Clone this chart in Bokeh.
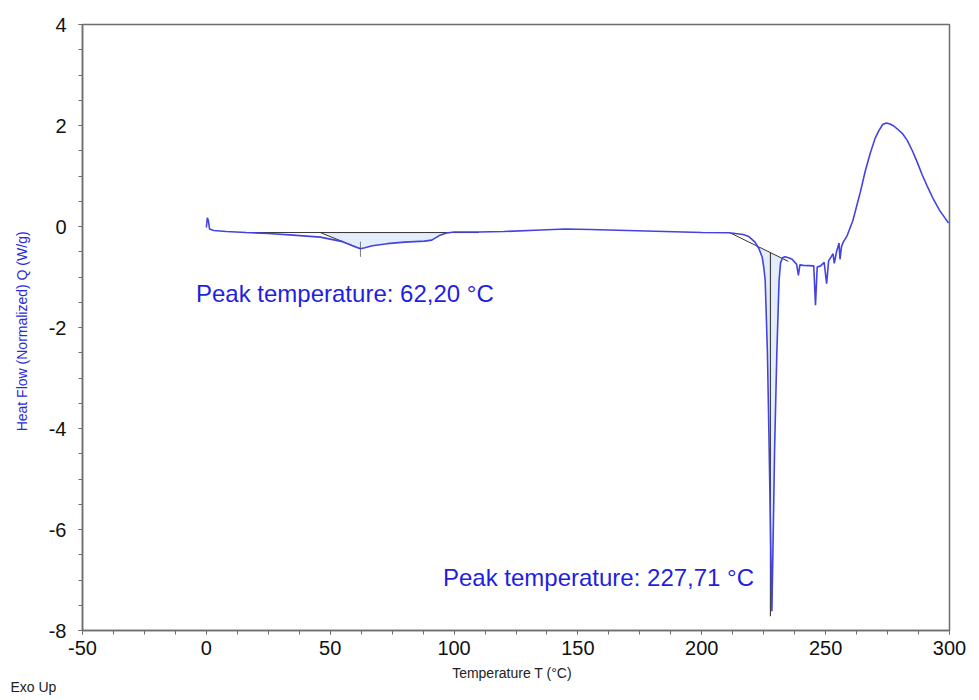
import numpy as np
from bokeh.plotting import figure
from bokeh.models import Range1d, SingleIntervalTicker, Label, PrintfTickFormatter
from bokeh.embed import file_html
from bokeh.resources import INLINE

# ---- data ----
temperature = [0.0, 0.4, 0.8, 1.3, 3, 8, 16, 25, 35, 46, 55, 60, 62.2, 64, 67, 73, 80, 88, 91,
               94, 97, 100, 110, 120, 135, 145, 155, 170, 185, 200, 211, 216.7, 219, 221.5,
               223.1, 224.4, 225.0, 225.6, 226.5, 227.2, 227.8, 228.3, 228.8, 229.4, 230.3,
               231.2, 231.8, 232.6, 233.6, 235, 236.5, 238.3, 239.0, 239.6, 241, 245.2, 245.9,
               246.6, 248, 249.4, 250.4, 251.2, 253.0, 253.5, 254.4, 255.4, 255.8, 256.4, 257,
               258.7, 261, 264, 266, 268, 270, 271.5, 273, 274.5, 276, 277.5, 279, 281,
               283, 285, 287, 289, 291, 293.5, 296, 298, 299.6]
heat_flow = [-0.02, 0.17, 0.12, -0.05, -0.08, -0.10, -0.12, -0.14, -0.17, -0.21, -0.30, -0.40,
             -0.44, -0.42, -0.38, -0.34, -0.31, -0.29, -0.27, -0.18, -0.13, -0.11, -0.11, -0.10,
             -0.07, -0.05, -0.06, -0.08, -0.10, -0.12, -0.125, -0.16, -0.20, -0.31, -0.44,
             -0.61, -0.80, -1.07, -2.5, -4.4, -6.2, -7.62, -6.2, -4.4, -2.5, -1.07, -0.72,
             -0.62, -0.60, -0.62, -0.65, -0.75, -0.97, -0.76, -0.77, -0.78, -1.56, -0.80,
             -0.78, -0.71, -1.13, -0.68, -0.54, -0.73, -0.50, -0.33, -0.65, -0.40, -0.32,
             -0.18, 0.12, 0.68, 1.10, 1.45, 1.75, 1.90, 2.02, 2.05, 2.03, 1.99, 1.93, 1.84,
             1.70, 1.50, 1.27, 1.02, 0.80, 0.54, 0.32, 0.18, 0.07]

# integration baselines (start/end temperature and value)
base1_T = [16, 110]
base1_Q = [-0.12, -0.12]
tangent1_T = [46, 62.2]
tangent1_Q = [-0.12, -0.44]
base2_T = [211.4, 234.9]
base2_Q = [-0.125, -0.69]
peak_temps = [62.20, 227.71]
peak_labels = ["Peak temperature: 62,20 °C", "Peak temperature: 227,71 °C"]

T = np.array(temperature)
Q = np.array(heat_flow)

CURVE = "#4343e2"
TEXT_BLUE = "#1f1fe0"
SHADE = "#e4eefa"
AXIS = "#6e6e6e"

p = figure(width=979, height=700, output_backend="svg", toolbar_location=None,
           x_range=Range1d(-50, 300), y_range=Range1d(-8, 4),
           min_border_left=82, min_border_right=30, min_border_top=24, min_border_bottom=70)
p.background_fill_color = "white"
p.border_fill_color = "white"
p.outline_line_color = AXIS
p.outline_line_width = 1.5
p.xgrid.visible = False
p.ygrid.visible = False

# ---- shaded areas ----
m1 = (T > 62.2) & (T <= 97)
xs1 = [tangent1_T[0], tangent1_T[1]] + list(T[m1]) + [97]
ys1 = [tangent1_Q[0], tangent1_Q[1]] + list(Q[m1]) + [base1_Q[1]]
p.patch(xs1, ys1, fill_color=SHADE, line_color=None)

def base2(t):
    return np.interp(t, base2_T, base2_Q)
m2 = (T >= 222.0) & (T <= base2_T[1])
xs2 = [222.0] + list(T[m2]) + [base2_T[1], 222.0]
ys2 = [float(base2(222.0))] + list(Q[m2]) + [base2_Q[1], float(base2(222.0))]
p.patch(xs2, ys2, fill_color=SHADE, line_color=None)

# baselines
p.line(base1_T, base1_Q, line_color="#333333", line_width=1)
p.line(tangent1_T, tangent1_Q, line_color="#333333", line_width=1)
p.line(base2_T, base2_Q, line_color="#333333", line_width=1)

# peak markers
p.segment(x0=[peak_temps[0]], y0=[-0.30], x1=[peak_temps[0]], y1=[-0.60],
          line_color="#777777", line_width=1)
p.segment(x0=[peak_temps[1]], y0=[float(base2(peak_temps[1]))], x1=[peak_temps[1]], y1=[-7.72],
          line_color="#444444", line_width=1.2)

# main curve
p.line(T, Q, line_color=CURVE, line_width=1.6)

# peak labels
p.add_layout(Label(x=-4.2, y=-1.33, text=peak_labels[0], text_font="Liberation Sans",
                   text_font_size="24px", text_color=TEXT_BLUE, text_baseline="middle"))
p.add_layout(Label(x=95.5, y=-6.95, text=peak_labels[1], text_font="Liberation Sans",
                   text_font_size="24px", text_color=TEXT_BLUE, text_baseline="middle"))

# axes
p.xaxis.ticker = SingleIntervalTicker(interval=50, num_minor_ticks=4)
p.yaxis.ticker = SingleIntervalTicker(interval=2, num_minor_ticks=4)
p.xaxis.formatter = PrintfTickFormatter(format="%d")
p.yaxis.formatter = PrintfTickFormatter(format="%d")
p.xaxis.axis_label = "Temperature  T  (°C)"
p.yaxis.axis_label = "Heat Flow (Normalized)  Q  (W/g)"
for ax in (p.xaxis, p.yaxis):
    ax.axis_line_color = AXIS
    ax.axis_line_width = 1.5
    ax.major_tick_line_color = AXIS
    ax.minor_tick_line_color = AXIS
    ax.major_tick_out = 4
    ax.major_tick_in = 0
    ax.minor_tick_out = 4
    ax.minor_tick_in = 0
    ax.major_label_text_font = "Liberation Sans"
    ax.major_label_text_font_size = "20px"
    ax.major_label_text_color = "#111111"
    ax.axis_label_text_font = "Liberation Sans"
    ax.axis_label_text_font_size = "14px"
    ax.axis_label_text_font_style = "normal"
p.xaxis.axis_label_text_color = "#222222"
p.yaxis.axis_label_text_color = "#2a2ae0"
p.yaxis.major_label_standoff = 12
p.yaxis.axis_label_standoff = 16
p.xaxis.major_label_standoff = 6
p.xaxis.axis_label_standoff = 7

# "Exo Up" note in the lower-left corner, outside the axes; placed in the
# bottom side panel so that it is not clipped to the plotting frame
p.add_layout(Label(x=-50, y=-8, x_offset=-72, y_offset=-56, text="Exo Up",
                   text_font="Liberation Sans", text_font_size="14px",
                   text_color="#222222", text_baseline="middle"), "below")

open("out.html", "w").write(file_html(p, INLINE))
